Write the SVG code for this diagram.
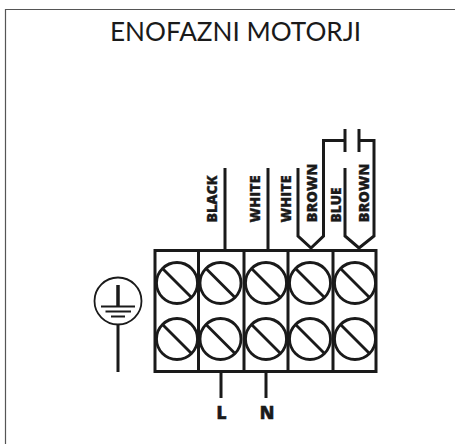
<svg xmlns="http://www.w3.org/2000/svg" width="455" height="444" viewBox="0 0 455 444">
<style>
.w{fill:none;stroke:#1a1a1a;stroke-width:3}
.t{fill:none;stroke:#1a1a1a;stroke-width:2.800}
.s{fill:#fff;stroke:#1a1a1a;stroke-width:2.800}
.l{font-family:"Open Sans","DejaVu Sans",sans-serif;font-weight:800;font-size:14px;fill:#1a1a1a;stroke:#1a1a1a;stroke-width:.35}
.b{font-family:"Open Sans","DejaVu Sans",sans-serif;font-weight:800;font-size:17.500px;fill:#1a1a1a;stroke:#1a1a1a;stroke-width:.5}
</style>
<defs>
<g id="screw"><circle r="20.500" class="s"/><line x1="-15" y1="-15" x2="15" y2="15" class="t"/></g>
</defs>
<rect width="455" height="444" fill="#fff"/>
<path d="M5.500 444V9.500H455" fill="none" stroke="#555" stroke-width="1.200"/>
<text id="title" x="110" y="41" font-family="Lato,'Liberation Sans',sans-serif" font-size="26.500" fill="#1a1a1a" textLength="251" lengthAdjust="spacingAndGlyphs">ENOFAZNI MOTORJI</text>
<g id="connectors">
<path class="w" d="M225 168V250M268 168V250M298 168V236L311 248L323.500 236V140.500H345M345 129V152M359 129V152M359 140.500H374V236L359 248L345 236V168"/>
<path class="w" d="M221 372V398M266 372V398M118 325V372"/>
</g>
<g id="terminal">
<rect x="155" y="250.500" width="221" height="121" class="w"/>
<path class="w" d="M198.500 250V372M244 250V372M288 250V372M333 250V372"/>
</g>
<g id="screws">
<use href="#screw" x="177" y="283"/><use href="#screw" x="220.500" y="283"/><use href="#screw" x="266" y="283"/><use href="#screw" x="310" y="283"/><use href="#screw" x="355" y="283"/>
<use href="#screw" x="177" y="339"/><use href="#screw" x="220.500" y="339"/><use href="#screw" x="266" y="339"/><use href="#screw" x="310" y="339"/><use href="#screw" x="355" y="339"/>
</g>
<g id="ground">
<circle cx="118" cy="301" r="23.500" fill="#fff" stroke="#1a1a1a" stroke-width="1.800"/>
<path d="M118 285V306" fill="none" stroke="#1a1a1a" stroke-width="3.500"/>
<path d="M101 306.500H135M105.500 311.500H131M111 316.500H125" fill="none" stroke="#1a1a1a" stroke-width="1.800"/>
</g>
<g id="labels">
<text class="l" transform="translate(217,222.500) rotate(-90)" textLength="47" lengthAdjust="spacingAndGlyphs">BLACK</text>
<text class="l" transform="translate(260,222.500) rotate(-90)" textLength="47" lengthAdjust="spacingAndGlyphs">WHITE</text>
<text class="l" transform="translate(290.500,222.500) rotate(-90)" textLength="47" lengthAdjust="spacingAndGlyphs">WHITE</text>
<text class="l" transform="translate(317,222.500) rotate(-90)" textLength="59" lengthAdjust="spacingAndGlyphs">BROWN</text>
<text class="l" transform="translate(341,222.500) rotate(-90)" textLength="35" lengthAdjust="spacingAndGlyphs">BLUE</text>
<text class="l" transform="translate(369,222.500) rotate(-90)" textLength="59" lengthAdjust="spacingAndGlyphs">BROWN</text>
<text class="b" x="221.500" y="419" text-anchor="middle">L</text>
<text class="b" x="267" y="419" text-anchor="middle">N</text>
</g>
</svg>
